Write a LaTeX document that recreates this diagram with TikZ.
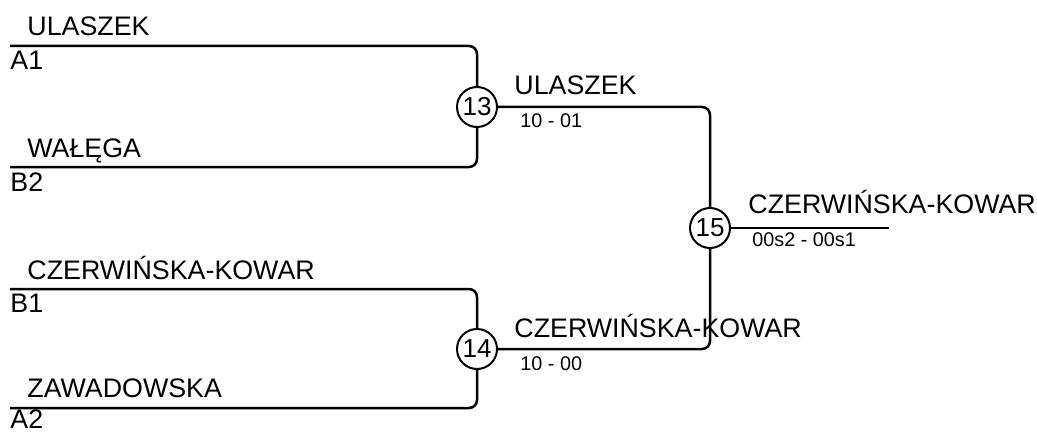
\documentclass[tikz,border=0pt]{standalone}
\usepackage{fontspec}
\setmainfont{Liberation Sans}
\usetikzlibrary{positioning}

\tikzset{
  player/.style={anchor=base west,inner sep=0pt,font=\fontsize{13.4}{16}\selectfont},
  score/.style={anchor=base west,inner sep=0pt,font=\fontsize{9.9}{12}\selectfont},
  match/.style={circle,draw,line width=1pt,inner sep=0pt,minimum size=20pt,fill=white,font=\fontsize{13}{15}\selectfont},
  wire/.style={line width=1.25pt,rounded corners=4pt}
}

\begin{document}
\begin{tikzpicture}[x=0.5pt,y=-0.5pt]
  \useasboundingbox (0,0) rectangle (1037,433);
  % matches
  \node[match] (m13) at (477,107) {13};
  \node[match] (m14) at (477,349) {14};
  \node[match] (m15) at (710,228) {15};
  % first round lines
  \coordinate (a1) at (10,46);
  \coordinate (b2) at (10,167);
  \coordinate (b1) at (10,289);
  \coordinate (a2) at (10,408);
  \coordinate (fin) at (889,228);
  \draw[wire] (a1) -| (m13);
  \draw[wire] (b2) -| (m13);
  \draw[wire] (b1) -| (m14);
  \draw[wire] (a2) -| (m14);
  \draw[wire] (m13) -| (m15);
  \draw[wire] (m14) -| (m15);
  \draw[wire] (m15) -- (fin);
  % players
  \node[player] (ulaszek) at (27,36) {ULASZEK};
  \node[player] (slotA1) at (10,70) {A1};
  \node[player] (walega) at (27,157) {WAŁĘGA};
  \node[player] (slotB2) at (10,191) {B2};
  \node[player] (czerw) at (27,279) {CZERWIŃSKA-KOWAR};
  \node[player] (slotB1) at (10,312) {B1};
  \node[player] (zawad) at (27,397) {ZAWADOWSKA};
  \node[player] (slotA2) at (10,428.5) {A2};
  % winners and scores
  \node[player] (win13) at (514,95) {ULASZEK};
  \node[score] (sc13) at (520,127) {10 - 01};
  \node[player] (win14) at (514,337) {CZERWIŃSKA-KOWAR};
  \node[score] (sc14) at (520,370) {10 - 00};
  \node[player] (win15) at (748,213) {CZERWIŃSKA-KOWAR};
  \node[score] (sc15) at (752,246) {00s2 - 00s1};
\end{tikzpicture}
\end{document}
